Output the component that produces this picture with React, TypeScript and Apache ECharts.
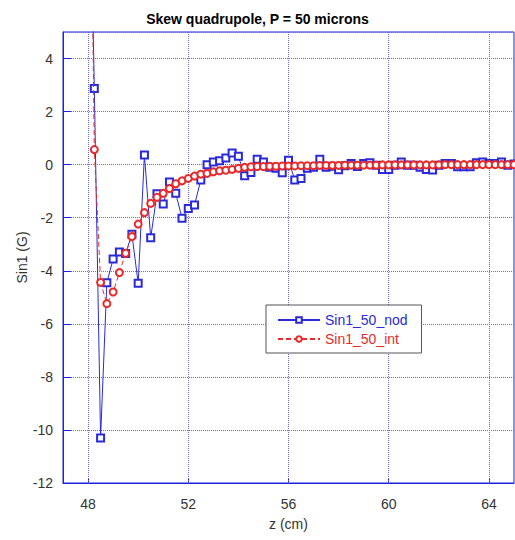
import React, { useEffect, useRef } from "react";
import * as echarts from "echarts";

const zValues = [
  48.0, 48.25, 48.5, 48.75, 49.0, 49.25, 49.5, 49.75, 50.0, 50.25, 50.5, 50.75,
  51.0, 51.25, 51.5, 51.75, 52.0, 52.25, 52.5, 52.75, 53.0, 53.25, 53.5, 53.75,
  54.0, 54.25, 54.5, 54.75, 55.0, 55.25, 55.5, 55.75, 56.0, 56.25, 56.5, 56.75,
  57.0, 57.25, 57.5, 57.75, 58.0, 58.25, 58.5, 58.75, 59.0, 59.25, 59.5, 59.75,
  60.0, 60.25, 60.5, 60.75, 61.0, 61.25, 61.5, 61.75, 62.0, 62.25, 62.5, 62.75,
  63.0, 63.25, 63.5, 63.75, 64.0, 64.25, 64.5, 64.75, 65.0,
];

const sin1Nod = [
  15.0, 2.87, -10.3, -4.45, -3.56, -3.29, -3.35, -2.62, -4.47, 0.36, -2.76, -1.1,
  -1.48, -0.65, -1.08, -2.02, -1.65, -1.52, -0.58, 0.0, 0.1, 0.15, 0.25, 0.44,
  0.32, -0.42, -0.3, 0.2, 0.1, -0.1, -0.14, -0.31, 0.17, -0.58, -0.52, -0.14,
  -0.1, 0.2, -0.1, -0.06, -0.19, -0.04, 0.04, -0.07, 0.04, 0.07, -0.02, -0.18,
  -0.18, -0.02, 0.1, -0.02, -0.02, -0.1, -0.18, -0.2, -0.02, 0.04, 0.04, -0.08,
  -0.08, -0.08, 0.07, 0.1, 0.04, 0.04, 0.1, -0.02, 0.02,
];

const sin1Int = [
  20.0, 0.57, -4.44, -5.24, -4.8, -4.07, -3.34, -2.71, -2.24, -1.81, -1.46, -1.23,
  -1.08, -0.9, -0.72, -0.61, -0.52, -0.43, -0.36, -0.33, -0.27, -0.23, -0.21, -0.18,
  -0.14, -0.1, -0.08, -0.07, -0.07, -0.06, -0.06, -0.05, -0.05, -0.05, -0.04, -0.04,
  -0.04, -0.03, -0.03, -0.03, -0.03, -0.02, -0.02, -0.02, -0.02, -0.02, -0.02, -0.01,
  -0.01, -0.01, -0.01, -0.01, -0.01, -0.01, -0.01, -0.01, -0.01, 0.0, 0.0, 0.0,
  0.0, 0.0, 0.0, 0.0, 0.0, 0.0, 0.0, 0.0, 0.0,
];

const xTicks = [48, 52, 56, 60, 64];

const TITLE = "Skew quadrupole, P = 50 microns";
const NAME_NOD = "Sin1_50_nod";
const NAME_INT = "Sin1_50_int";

export default function App() {
  const ref = useRef<HTMLDivElement>(null);

  useEffect(() => {
    if (!ref.current) return;
    const chart = echarts.init(ref.current, undefined, { renderer: "svg" });
    const frame = "#1f1fdf";
    const gridColor = "#6a6af0";
    const blue = "#2a2ad8";
    const red = "#e82a2a";
    const font = "Liberation Sans, Arial, sans-serif";
    const labelColor = "#333";

    chart.setOption({
      animation: false,
      backgroundColor: "#ffffff",
      title: {
        text: TITLE,
        left: "center",
        top: 7,
        textStyle: { fontFamily: font, fontSize: 14, fontWeight: "bold", color: "#000" },
      },
      legend: {
        orient: "vertical",
        left: 266,
        top: 305,
        backgroundColor: "#ffffff",
        borderColor: "#555555",
        borderWidth: 1,
        borderRadius: 0,
        padding: [8, 14, 7, 11],
        itemWidth: 42,
        itemHeight: 7,
        itemGap: 5,
        textStyle: { fontFamily: font, fontSize: 14, lineHeight: 14 },
        data: [
          { name: NAME_NOD, textStyle: { color: blue } },
          { name: NAME_INT, textStyle: { color: red } },
        ],
      },
      grid: {
        left: 63,
        right: 1,
        top: 32,
        bottom: 57,
        show: true,
        borderColor: frame,
        borderWidth: 1,
        containLabel: false,
      },
      xAxis: {
        type: "value",
        min: 47,
        max: 65,
        name: "z (cm)",
        nameLocation: "middle",
        nameGap: 34,
        nameMoveOverlap: false,
        nameTextStyle: { fontFamily: font, fontSize: 14, color: labelColor },
        axisLine: { show: true, onZero: false, lineStyle: { color: frame, width: 1 } },
        axisTick: {
          show: true,
          inside: true,
          length: 5,
          customValues: xTicks,
          lineStyle: { color: frame, width: 1 },
        },
        axisLabel: {
          customValues: xTicks,
          margin: 14,
          fontFamily: font,
          fontSize: 14,
          color: labelColor,
        },
        splitLine: { show: false },
      },
      yAxis: {
        type: "value",
        min: -12,
        max: 5,
        interval: 2,
        name: "Sin1 (G)",
        nameLocation: "middle",
        nameGap: 34,
        nameMoveOverlap: false,
        nameTextStyle: { fontFamily: font, fontSize: 14, color: labelColor },
        axisLine: { show: true, onZero: false, lineStyle: { color: frame, width: 1 } },
        axisTick: { show: true, inside: true, length: 8, lineStyle: { color: frame, width: 1 } },
        axisLabel: {
          showMaxLabel: false,
          margin: 10,
          fontFamily: font,
          fontSize: 14,
          color: labelColor,
        },
        splitLine: { show: true, lineStyle: { color: gridColor, type: "dotted", width: 1 } },
      },
      series: [
        {
          name: NAME_NOD,
          type: "line",
          data: zValues.map((z, i) => [z, sin1Nod[i]]),
          symbol: "emptyRect",
          symbolSize: 7,
          showAllSymbol: true,
          lineStyle: { color: blue, width: 1 },
          itemStyle: { color: blue, borderColor: blue, borderWidth: 1 },
          z: 3,
          markLine: {
            silent: true,
            symbol: "none",
            label: { show: false },
            lineStyle: { color: gridColor, type: "dotted", width: 1 },
            data: xTicks.map((v) => ({ xAxis: v })),
            z: 1,
          },
        },
        {
          name: NAME_INT,
          type: "line",
          data: zValues.map((z, i) => [z, sin1Int[i]]),
          symbol: "emptyCircle",
          symbolSize: 7,
          showAllSymbol: true,
          lineStyle: { color: red, width: 1, type: [5, 3] },
          itemStyle: { color: red, borderColor: red, borderWidth: 1 },
          z: 4,
        },
      ],
    });

    return () => chart.dispose();
  }, []);

  return (
    <div
      ref={ref}
      style={{ position: "fixed", left: 0, top: 0, width: 515, height: 540 }}
    />
  );
}
